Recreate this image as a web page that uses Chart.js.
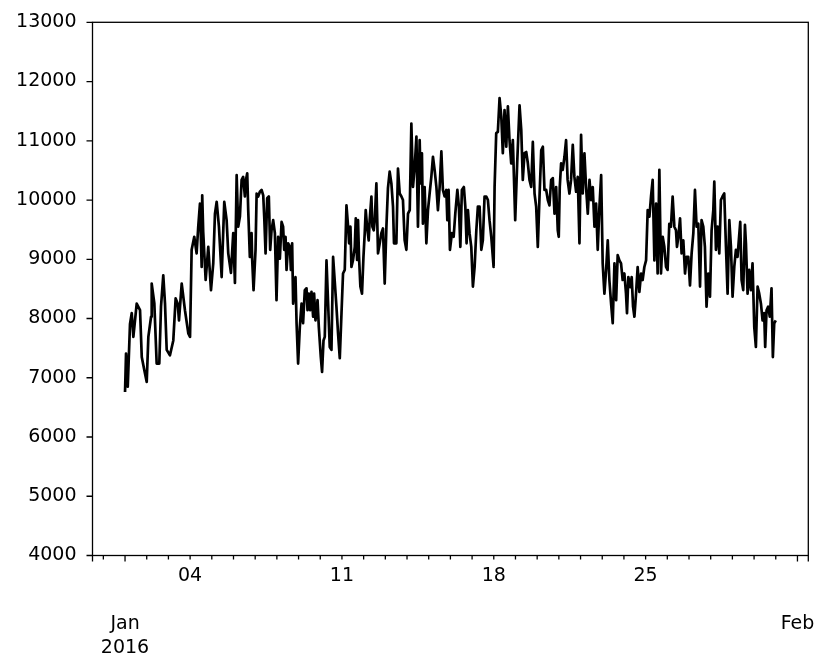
<!DOCTYPE html>
<html>
<head>
<meta charset="utf-8">
<script src="https://cdn.jsdelivr.net/npm/chart.js@4"></script>
<style>
  body { margin: 0; background: #fff; }
  canvas { display: block; }
</style>
</head>
<body>
<canvas id="chart" width="831" height="671"></canvas>
<script>
// hours since 2016-01-01 00:00
const hours = [
  0, 1.1, 3.0, 5.5, 7.4, 9.2, 12.9, 16.6, 18.5, 21.3, 24.0, 25.8, 28.8, 29.5, 32.4, 35.0, 37.9, 39.8, 42.3, 44.2,
  46.1, 49.7, 53.4, 56.0, 58.3, 59.7, 62.7, 66.3, 70.0, 71.9, 73.7, 76.6, 79.2, 81.0, 82.9, 84.8, 85.4, 86.5, 89.2, 92.1,
  95.1, 97.6, 99.5, 101.4, 103.9, 106.9, 109.8, 112.4, 114.2, 117.2, 119.7, 121.6, 123.5, 125.2, 127.1, 129.0, 130.7, 132.6, 133.4, 135.2,
  136.3, 138.1, 140.0, 140.7, 142.2, 144.4, 145.6, 147.3, 149.2, 151.1, 152.9, 154.0, 155.5, 157.3, 159.1, 160.6, 162.1, 163.9, 165.8, 167.6,
  169.4, 171.3, 173.2, 174.9, 176.1, 177.6, 178.7, 180.5, 182.4, 183.5, 184.9, 186.0, 188.6, 189.8, 191.5, 193.4, 195.3, 197.0, 198.9, 200.8,
  201.9, 203.3, 204.8, 206.3, 208.1, 209.2, 210.7, 213.0, 214.4, 216.6, 218.0, 219.6, 221.0, 222.9, 224.7, 226.5, 228.4, 230.2, 233.9, 235.7,
  237.6, 239.5, 241.2, 243.1, 245.0, 246.8, 247.9, 249.4, 250.5, 252.3, 254.2, 255.3, 256.7, 257.8, 258.9, 260.4, 262.2, 263.8, 265.2, 266.3,
  267.8, 269.6, 270.7, 272.6, 273.7, 275.2, 276.3, 278.1, 279.9, 281.8, 283.6, 285.4, 287.3, 289.2, 290.9, 292.8, 294.7, 296.5, 297.6, 300.2,
  302.0, 303.9, 305.8, 307.5, 309.4, 311.3, 313.1, 315.0, 316.8, 318.6, 320.5, 322.4, 324.1, 326.0, 327.1, 328.5, 329.6, 331.5, 333.4, 335.2,
  337.0, 338.9, 340.7, 342.6, 344.5, 346.2, 348.1, 350.0, 351.7, 353.6, 355.5, 356.6, 358.0, 359.5, 361.7, 363.6, 365.4, 367.7, 369.4, 371.0,
  372.7, 374.9, 376.5, 377.9, 379.4, 381.2, 383.1, 384.9, 386.8, 388.7, 390.4, 392.3, 394.2, 395.9, 397.8, 399.7, 401.5, 403.3, 405.2, 407.8,
  408.9, 410.7, 412.5, 414.4, 416.3, 418.0, 419.9, 421.8, 423.6, 425.4, 427.3, 429.1, 431.7, 433.9, 436.5, 438.4, 440.1, 442.0, 443.9, 445.7,
  447.5, 449.4, 451.2, 453.1, 454.9, 456.7, 458.6, 460.5, 462.3, 464.1, 466.0, 467.8, 469.6, 471.5, 473.3, 475.2, 477.0, 478.8, 479.9, 481.0,
  482.5, 484.3, 486.2, 488.0, 489.7, 491.7, 493.5, 495.4, 497.2, 499.1, 500.9, 502.8, 504.6, 506.4, 508.3, 510.1, 512.0, 513.9, 515.7, 517.5,
  519.4, 521.2, 523.0, 524.9, 526.8, 528.5, 530.4, 532.3, 534.1, 535.9, 537.8, 539.6, 541.5, 543.4, 545.1, 547.0, 548.8, 550.6, 552.5, 554.3,
  555.4, 556.9, 559.1, 560.6, 562.1, 563.6, 565.4, 567.2, 569.1, 571.0, 572.7, 574.6, 576.5, 578.3, 580.2, 582.0, 583.8, 585.7, 587.6, 589.3,
  591.2, 593.0, 594.9, 596.7, 598.6, 600.3, 602.2, 604.0, 605.9, 607.8, 609.6, 610.7, 612.2, 614.1, 615.8, 617.7, 619.6, 621.4, 623.2, 625.1,
  626.9, 628.8, 630.6, 632.4, 634.3, 636.2, 637.9, 639.8, 641.6, 643.4, 645.3, 647.2, 649.0, 650.9, 652.0, 653.8, 655.6, 657.5, 659.3, 661.1,
  663.0, 664.9, 666.7, 668.6, 670.4, 672.2, 674.1, 675.9, 677.7, 680.7, 682.2, 684.0, 685.9, 687.0, 688.8, 690.6, 692.5, 694.3, 696.2, 698.0,
  699.9, 701.7, 703.6, 705.4, 707.2, 708.3, 709.8, 711.6, 713.4, 715.3, 716.8, 718.3, 720.0
];

const load = [
  6760, 7410, 6850, 7910, 8090, 7690, 8250, 8140, 7350, 7130, 6930, 7690, 8030, 8590, 8260, 7240, 7240, 8200, 8730, 8260,
  7470, 7380, 7630, 8340, 8250, 7970, 8590, 8140, 7750, 7690, 9160, 9380, 9100, 9550, 9940, 8870, 10080, 9460, 8650, 9210,
  8480, 8930, 9770, 9970, 9550, 8700, 9970, 9660, 9100, 8770, 9440, 8600, 10420, 9550, 9720, 10340, 10390, 10060, 10310, 10450,
  9830, 9040, 9440, 8990, 8480, 9160, 10110, 10060, 10140, 10170, 10080, 9720, 9100, 10030, 10060, 9160, 9490, 9660, 9440, 8310,
  9380, 9010, 9630, 9550, 9160, 9380, 8820, 9270, 9210, 8820, 9270, 8250, 8700, 7920, 7240, 7860, 8250, 7920, 8480, 8510,
  8140, 8420, 8140, 8450, 8030, 8420, 7970, 8310, 7860, 7350, 7100, 7630, 7690, 8980, 8250, 7520, 7470, 9040, 8200, 7750,
  7330, 8090, 8760, 8820, 9910, 9550, 9270, 9550, 8870, 8990, 9210, 9690, 8990, 9660, 9040, 8540, 8420, 9040, 9440, 9830,
  9550, 9320, 9660, 10060, 9550, 9490, 9660, 10280, 9100, 9270, 9440, 9520, 8590, 9550, 10200, 10480, 10280, 9890, 9270, 9270,
  10530, 10110, 10060, 10000, 9320, 9160, 9770, 9830, 11290, 10220, 10560, 11070, 9550, 11010, 10280, 10790, 9600, 10220, 9270, 9830,
  10110, 10390, 10730, 10500, 10220, 9830, 10220, 10820, 10170, 10060, 10170, 9660, 10170, 9160, 9440, 9380, 9770, 10170, 9890, 9210,
  10170, 10220, 9890, 9270, 9830, 9440, 9210, 8540, 8870, 9490, 9890, 9890, 9160, 9320, 10060, 10060, 10000, 9660, 9380, 8870,
  10220, 11130, 11150, 11720, 11410, 10790, 11520, 10900, 11580, 11010, 10620, 11010, 9660, 10620, 11600, 11180, 10340, 10790, 10810, 10620,
  10340, 10220, 10980, 10110, 9890, 9210, 10060, 10840, 10900, 10170, 10170, 10000, 9910, 10340, 10370, 9770, 10220, 9490, 9380, 10220,
  10620, 10510, 10730, 11010, 10340, 10110, 10340, 10930, 10390, 10140, 10390, 9270, 11100, 10110, 10790, 10220, 9770, 10340, 10000, 10220,
  9550, 9940, 9160, 9890, 10420, 8930, 8420, 8820, 9320, 8650, 8250, 7920, 8930, 8310, 9070, 8980, 8930, 8650, 8760, 8420,
  8090, 8700, 8530, 8700, 8200, 8030, 8420, 8870, 8450, 8760, 8650, 8870, 8980, 9830, 9720, 10060, 10340, 8980, 9940, 8760,
  10510, 8760, 9380, 9210, 8870, 8820, 9600, 9550, 10060, 9550, 9490, 9210, 9380, 9690, 9100, 9320, 8760, 9040, 9040, 8560,
  9100, 9440, 10170, 9550, 9600, 8540, 9660, 9550, 9210, 8200, 8760, 8370, 9490, 9830, 10310, 9160, 9550, 9100, 10000, 10060,
  10110, 9210, 8420, 9660, 9210, 8370, 8870, 9160, 9040, 9630, 8650, 8480, 9580, 9270, 8420, 8820, 8480, 8930, 7860, 7520,
  8540, 8420, 8250, 7970, 8090, 7520, 8140, 8200, 8030, 8510, 7350, 7920, 7970
];

const yTicks = [4000, 5000, 6000, 7000, 8000, 9000, 10000, 11000, 12000, 13000];
const labelHours = [0, 72, 240, 408, 576, 744];
const labelTexts = [['', '', 'Jan', '2016'], '04', '11', '18', '25', ['', '', 'Feb']];

const xMin = -36, xMax = 756;
const tickHours = [xMin];
for (let d = -1; d <= 31; d++) tickHours.push(d * 24);
tickHours.push(xMax);
const longTicks = [xMin, xMax, 0, 744];

const yFont = { family: 'DejaVu Sans', size: 19, lineHeight: 1.2 };
const xFont = { family: 'DejaVu Sans', size: 19, lineHeight: 1.25 };

const mplAxes = {
  id: 'mplAxes',
  afterDraw(chart) {
    const { ctx, chartArea: a, scales: { x, y } } = chart;
    ctx.save();
    ctx.strokeStyle = '#000';
    ctx.lineWidth = 1.3;
    ctx.strokeRect(a.left, a.top, a.right - a.left, a.bottom - a.top);
    ctx.beginPath();
    x.ticks.forEach(t => {
      const px = x.getPixelForValue(t.value);
      const len = longTicks.includes(t.value) ? 6 : 4;
      ctx.moveTo(px, a.bottom);
      ctx.lineTo(px, a.bottom + len);
    });
    y.ticks.forEach(t => {
      const py = y.getPixelForValue(t.value);
      ctx.moveTo(a.left, py);
      ctx.lineTo(a.left - 6, py);
    });
    ctx.stroke();
    ctx.restore();
  }
};

new Chart(document.getElementById('chart'), {
  type: 'line',
  data: {
    datasets: [{
      data: hours.map((h, i) => ({ x: h, y: load[i] })),
      borderColor: '#000',
      borderWidth: 2.7,
      borderJoinStyle: 'round',
      pointRadius: 0,
      tension: 0,
      fill: false
    }]
  },
  options: {
    responsive: false,
    devicePixelRatio: 1,
    animation: false,
    layout: { padding: { left: 0, right: 22.7, top: 22.3, bottom: 0 } },
    plugins: { legend: { display: false }, tooltip: { enabled: false } },
    scales: {
      x: {
        type: 'linear',
        min: xMin,
        max: xMax,
        grid: { display: false },
        border: { display: false },
        afterBuildTicks: s => { s.ticks = tickHours.map(v => ({ value: v })); },
        afterFit: s => { s.height = 671 - 555.5; },
        ticks: {
          autoSkip: false,
          maxRotation: 0,
          padding: 1,
          color: '#000',
          font: xFont,
          callback: v => {
            const i = labelHours.indexOf(v);
            return i >= 0 ? labelTexts[i] : '';
          }
        }
      },
      y: {
        min: 4000,
        max: 13000,
        grid: { display: false },
        border: { display: false },
        afterBuildTicks: s => { s.ticks = yTicks.map(v => ({ value: v })); },
        afterFit: s => { s.width = 92.5; },
        ticks: {
          padding: 8,
          color: '#000',
          font: yFont,
          callback: v => String(v)
        }
      }
    }
  },
  plugins: [mplAxes]
});
</script>
</body>
</html>
